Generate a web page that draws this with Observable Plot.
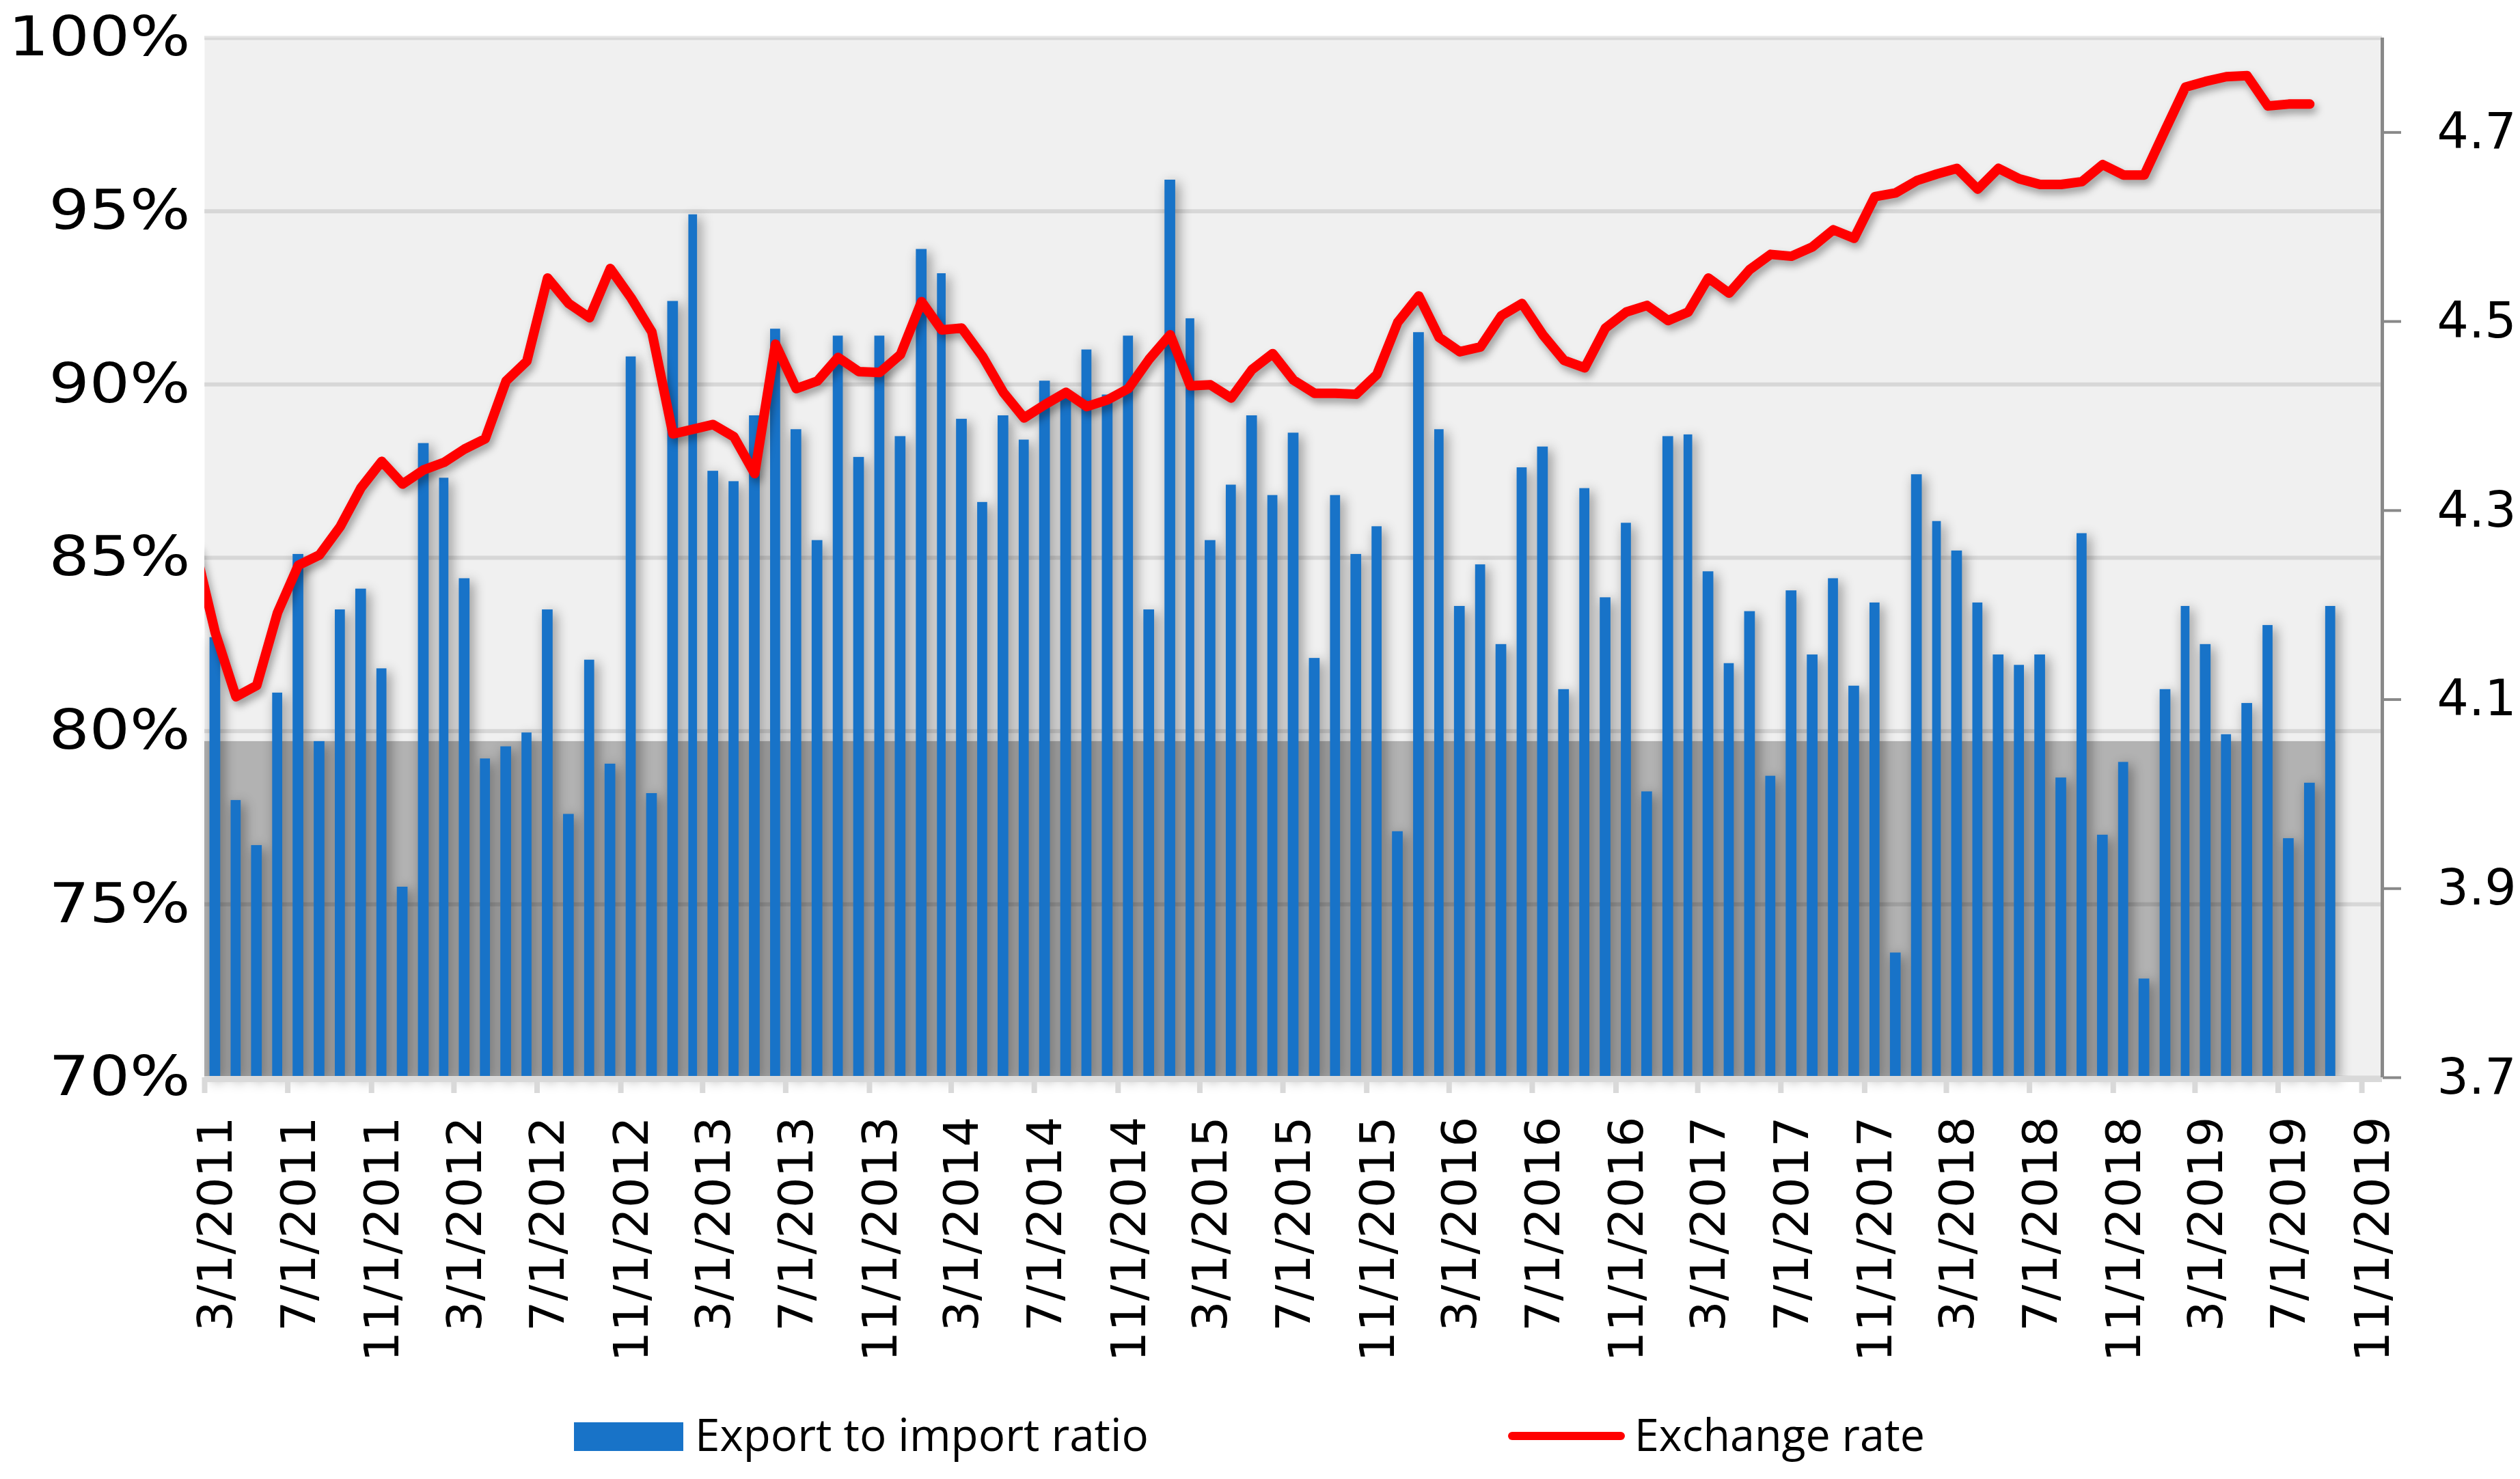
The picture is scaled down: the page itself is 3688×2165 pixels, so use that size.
<!DOCTYPE html>
<html>
<head>
<meta charset="utf-8">
<script src="https://cdn.jsdelivr.net/npm/d3@7"></script>
<script src="https://cdn.jsdelivr.net/npm/@observablehq/plot@0.6"></script>
<style>
  html, body { margin: 0; padding: 0; background: #fff; }
  #chart { width: 3688px; }
  #legend { display: block; }
</style>
</head>
<body>
<div id="chart"></div>
<script>
// ---------- data ----------
const barStartMonth = "2011-03-01";   // first bar month (monthly series)
const exportImportRatio = [
  82.7, 78.0, 76.7, 81.1, 85.1, 79.7, 83.5, 84.1, 81.8, 75.5,
  88.3, 87.3, 84.4, 79.2, 79.55, 79.95, 83.5, 77.6, 82.05, 79.05,
  90.8, 78.2, 92.4, 94.9, 87.5, 87.2, 89.1, 91.6, 88.7, 85.5,
  91.4, 87.9, 91.4, 88.5, 93.9, 93.2, 89.0, 86.6, 89.1, 88.4,
  90.1, 89.8, 91.0, 89.7, 91.4, 83.5, 95.9, 91.9, 85.5, 87.1,
  89.1, 86.8, 88.6, 82.1, 86.8, 85.1, 85.9, 77.1, 91.5, 88.7,
  83.6, 84.8, 82.5, 87.6, 88.2, 81.2, 87.0, 83.85, 86.0, 78.25,
  88.5, 88.55, 84.6, 81.95, 83.45, 78.7, 84.05, 82.2, 84.4, 81.3,
  83.7, 73.6, 87.4, 86.05, 85.2, 83.7, 82.2, 81.9, 82.2, 78.65,
  85.7, 77.0, 79.1, 72.85, 81.2, 83.6, 82.5, 79.9, 80.8, 83.05,
  76.9, 78.5, 83.6
];
const rateStartMonth = "2011-02-01";  // line series starts one month earlier (clipped at left edge)
const exchangeRate = [
  4.26, 4.171, 4.103, 4.115, 4.192, 4.242, 4.253, 4.283, 4.324, 4.352,
  4.328, 4.343, 4.351, 4.365, 4.376, 4.437, 4.458, 4.546, 4.519, 4.504,
  4.556, 4.525, 4.489, 4.381, 4.386, 4.391, 4.378, 4.339, 4.476, 4.429,
  4.437, 4.462, 4.447, 4.446, 4.465, 4.521, 4.491, 4.493, 4.463, 4.425,
  4.398, 4.412, 4.425, 4.410, 4.417, 4.429, 4.460, 4.486, 4.432, 4.433,
  4.419, 4.449, 4.466, 4.438, 4.424, 4.424, 4.423, 4.444, 4.499, 4.527,
  4.483, 4.468, 4.473, 4.506, 4.519, 4.486, 4.459, 4.451, 4.493, 4.510,
  4.517, 4.501, 4.510, 4.546, 4.530, 4.555, 4.571, 4.569, 4.579, 4.597,
  4.588, 4.632, 4.636, 4.649, 4.656, 4.662, 4.640, 4.662, 4.651, 4.645,
  4.645, 4.648, 4.666, 4.655, 4.655, 4.703, 4.748, 4.754, 4.759, 4.760,
  4.728, 4.730, 4.730
];
const leftTicks = [70, 75, 80, 85, 90, 95, 100];
const rightTicks = [3.7, 3.9, 4.1, 4.3, 4.5, 4.7];
const rightDomain = [3.7, 4.8];
const xDomain = ["2011-03-01", "2019-12-01"];
const xTickFirst = "2011-03-01";
const xTickLast = "2019-11-01";
const xTickStepMonths = 4;
const shadowBandTop = 79.7;           // grey shadow band at the bottom of the plot
const seriesNames = ["Export to import ratio", "Exchange rate"];

// ---------- helpers ----------
const BLUE = "#1873c8", RED = "#ff0000";
const d0 = new Date(barStartMonth), r0 = new Date(rateStartMonth);
const bars = exportImportRatio.map((v, i) => {
  const date = d3.utcMonth.offset(d0, i);
  return {date, next: d3.utcMonth.offset(date, 1), value: v};
});
const rate = exchangeRate.map((v, i) => {
  const date = d3.utcMonth.offset(r0, i);
  const next = d3.utcMonth.offset(date, 1);
  return {mid: new Date((+date + +next) / 2), value: v};
});
const [L0, L1] = [leftTicks[0], leftTicks[leftTicks.length - 1]];
const toLeft = v => L0 + (v - rightDomain[0]) * (L1 - L0) / (rightDomain[1] - rightDomain[0]);
const fromLeft = p => rightDomain[0] + (p - L0) * (rightDomain[1] - rightDomain[0]) / (L1 - L0);
const xmin = new Date(xDomain[0]), xmax = new Date(xDomain[1]);
const xTicks = [];
for (let d = new Date(xTickFirst); d <= new Date(xTickLast); d = d3.utcMonth.offset(d, xTickStepMonths)) xTicks.push(d);
const fmt = d3.utcFormat("%-m/%-d/%Y");
const lastBar = bars[bars.length - 1];

const W = 3688, H = 2050;
const plot = Plot.plot({
  width: W,
  height: H,
  marginLeft: 299,
  marginRight: 202,
  marginTop: 55,
  marginBottom: H - 1577,
  style: {fontFamily: "DejaVu Sans", fontSize: "70px", background: "#fff", color: "#000", overflow: "visible"},
  x: {type: "utc", domain: [xmin, xmax], axis: null},
  y: {domain: [L0, L1], axis: null},
  marks: [
    Plot.frame({fill: "#f0f0f0", stroke: null}),
    Plot.rect([lastBar], {x1: () => xmin, x2: d => d.next, y1: L0, y2: shadowBandTop, fill: "#b2b2b2", insetRight: 7.6}),
    Plot.gridY(leftTicks, {stroke: "#000", strokeOpacity: 0.1, strokeWidth: 6}),
    Plot.rect(bars, {x1: "date", x2: "next", y1: L0, y2: "value", fill: BLUE, insetLeft: 7.6, insetRight: 7.6,
      imageFilter: "drop-shadow(5px 5px 9px rgba(0,0,0,0.42))"}),
    Plot.line(rate, {x: "mid", y: d => toLeft(d.value), stroke: RED, strokeWidth: 14, strokeLinejoin: "round",
      strokeLinecap: "round", clip: true, imageFilter: "drop-shadow(4px 7px 6px rgba(0,0,0,0.35))"}),
    // bottom axis line and ticks
    Plot.ruleY([L0], {stroke: "#d9d9d9", strokeWidth: 9, dy: 2}),
    Plot.axisX(xTicks, {tickSize: 23, stroke: "#d9d9d9", strokeWidth: 8, tickFormat: () => "", label: null}),
    Plot.text(xTicks, {x: d => d, frameAnchor: "bottom", text: d => fmt(d), rotate: -90, textAnchor: "end",
      lineAnchor: "middle", dy: 57, dx: 17, fontSize: 70, fill: "#000"}),
    // left axis
    Plot.axisY(leftTicks, {anchor: "left", tickSize: 0, tickPadding: 21, tickFormat: d => d + "%", fontSize: 81,
      fill: "#000", label: null}),
    // right axis
    Plot.ruleX([xmax], {stroke: "#898989", strokeWidth: 5}),
    Plot.axisY(rightTicks.map(toLeft), {anchor: "right", tickSize: 27, tickPadding: 53, stroke: "#898989", strokeWidth: 4,
      tickFormat: p => fromLeft(p).toFixed(1), fontSize: 73, fill: "#000", label: null})
  ]
});
document.getElementById("chart").appendChild(plot);

// left-axis labels in the reference are drawn with a wider face: stretch them horizontally from their anchor
plot.querySelectorAll('g[aria-label="y-axis tick label"]').forEach(g => {
  if (g.getAttribute("text-anchor") === "end") {
    g.querySelectorAll("text").forEach(t => {
      t.setAttribute("transform", (t.getAttribute("transform") || "") + " scale(1.15,1)");
    });
  }
});

// ---------- legend (below the plot) ----------
const ns = "http://www.w3.org/2000/svg";
const leg = document.createElementNS(ns, "svg");
leg.setAttribute("id", "legend");
leg.setAttribute("width", W);
leg.setAttribute("height", 2165 - H);
const mk = (tag, attrs, text) => {
  const e = document.createElementNS(ns, tag);
  for (const k in attrs) e.setAttribute(k, attrs[k]);
  if (text) e.textContent = text;
  leg.appendChild(e);
  return e;
};
mk("rect", {x: 840, y: 32, width: 160, height: 42, fill: BLUE});
mk("text", {x: 1017, y: 74, "font-family": "Open Sans", "font-size": 66, fill: "#000", textLength: 664, lengthAdjust: "spacingAndGlyphs"}, seriesNames[0]);
mk("line", {x1: 2213, x2: 2372, y1: 52, y2: 52, stroke: RED, "stroke-width": 12, "stroke-linecap": "round"});
mk("text", {x: 2392, y: 74, "font-family": "Open Sans", "font-size": 66, fill: "#000", textLength: 425, lengthAdjust: "spacingAndGlyphs"}, seriesNames[1]);
document.getElementById("chart").appendChild(leg);
</script>
</body>
</html>
